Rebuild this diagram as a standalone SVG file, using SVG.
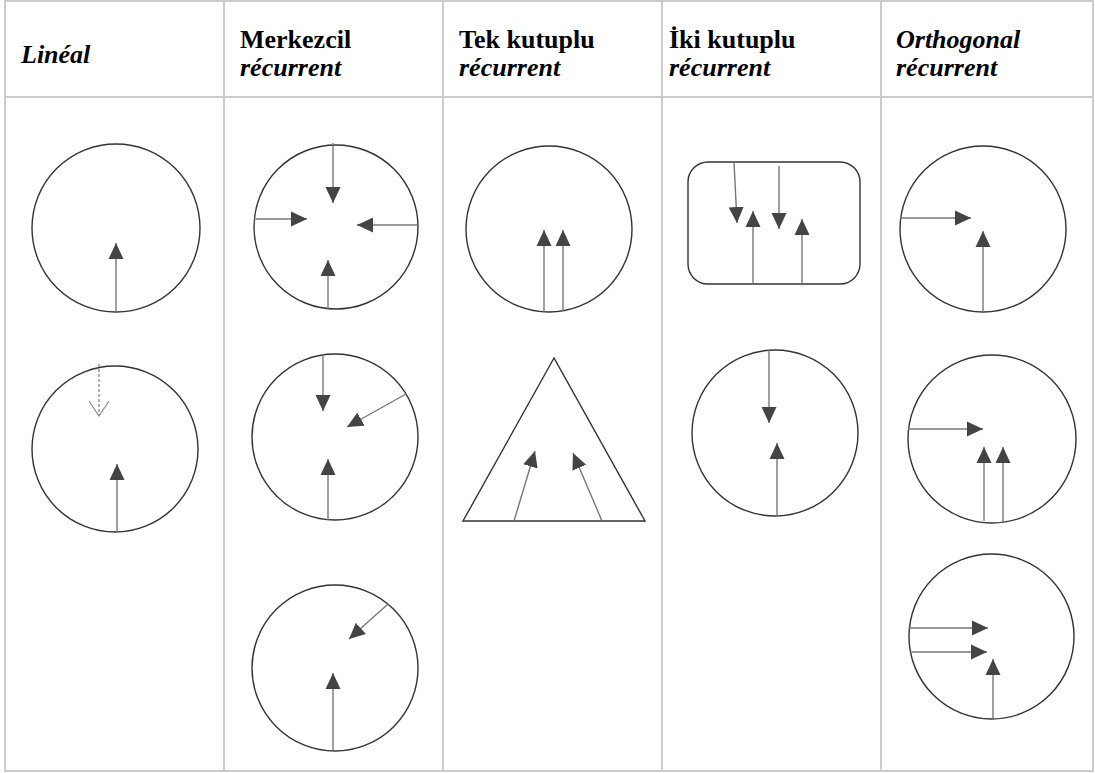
<svg xmlns="http://www.w3.org/2000/svg" width="1095" height="773" viewBox="0 0 1095 773">
<style>
.grid{stroke:#cccccc;stroke-width:2;fill:none}
.hd{font-family:"Liberation Serif","Times New Roman",serif;font-size:26px;font-weight:bold;fill:#000}
.it{font-style:italic}
.shape{fill:none;stroke:#333;stroke-width:1.4}
.ar{stroke:#777;stroke-width:1.4;fill:none;marker-end:url(#ah)}
.dash{stroke:#888;stroke-width:1.3;stroke-dasharray:3,2;fill:none;marker-end:url(#open)}
</style>
<defs>
<marker id="ah" markerUnits="userSpaceOnUse" markerWidth="16" markerHeight="16" viewBox="0 0 16 16" refX="16" refY="8" orient="auto">
<path d="M0,0.5 L16,8 L0,15.5 Z" fill="#444"/>
</marker>
<marker id="open" markerUnits="userSpaceOnUse" markerWidth="18" markerHeight="22" viewBox="0 0 18 22" refX="16" refY="11" orient="auto">
<path d="M1,1 L16,11 L1,21" fill="none" stroke="#888" stroke-width="1.2"/>
</marker>
</defs>
<g id="table">
<rect class="grid" x="5" y="1" width="1088" height="770"/>
<line class="grid" x1="5" y1="97" x2="1093" y2="97"/>
<line class="grid" x1="224" y1="1" x2="224" y2="771"/>
<line class="grid" x1="443" y1="1" x2="443" y2="771"/>
<line class="grid" x1="662" y1="1" x2="662" y2="771"/>
<line class="grid" x1="881" y1="1" x2="881" y2="771"/>
</g>
<g id="headers">
<text class="hd it" x="21" y="63">Linéal</text>
<text class="hd" x="240" y="48">Merkezcil</text>
<text class="hd it" x="240" y="76">récurrent</text>
<text class="hd" x="459" y="48">Tek kutuplu</text>
<text class="hd it" x="459" y="76">récurrent</text>
<text class="hd" x="669" y="48">İki kutuplu</text>
<text class="hd it" x="669" y="76">récurrent</text>
<text class="hd it" x="896" y="48">Orthogonal</text>
<text class="hd it" x="896" y="76">récurrent</text>
</g>
<g id="lineal-1"><circle class="shape" cx="116" cy="228" r="84"/></g>
<g id="lineal-2"><circle class="shape" cx="115" cy="449" r="83"/></g>
<g id="merkezcil-1"><circle class="shape" cx="336" cy="227" r="82"/></g>
<g id="merkezcil-2"><circle class="shape" cx="335" cy="437" r="83"/></g>
<g id="merkezcil-3"><circle class="shape" cx="335" cy="668" r="83"/></g>
<g id="tek-1"><circle class="shape" cx="549" cy="229" r="83"/></g>
<g id="tek-2"><polygon class="shape" points="554,358 463,521 645,521"/></g>
<g id="iki-1"><rect class="shape" x="688" y="162" width="172" height="122" rx="20" ry="20"/></g>
<g id="iki-2"><circle class="shape" cx="775" cy="433" r="83"/></g>
<g id="ortho-1"><circle class="shape" cx="983" cy="229" r="83"/></g>
<g id="ortho-2"><circle class="shape" cx="992" cy="439" r="84"/></g>
<g id="ortho-3"><circle class="shape" cx="991.5" cy="636.5" r="82.5"/></g>
<g id="connectors">
<line class="ar" x1="116" y1="312" x2="116" y2="243"/>
<line class="ar" x1="117" y1="532" x2="117" y2="464"/>
<line class="dash" x1="99" y1="364" x2="99" y2="416"/>
<line class="ar" x1="333" y1="143" x2="333" y2="203"/>
<line class="ar" x1="254" y1="219" x2="307" y2="219"/>
<line class="ar" x1="417" y1="225" x2="357" y2="225"/>
<line class="ar" x1="328" y1="309" x2="328" y2="260"/>
<line class="ar" x1="323" y1="354" x2="323" y2="411"/>
<line class="ar" x1="406" y1="394" x2="347" y2="427"/>
<line class="ar" x1="328" y1="520" x2="328" y2="459"/>
<line class="ar" x1="388" y1="604" x2="349" y2="639"/>
<line class="ar" x1="333" y1="751" x2="333" y2="673"/>
<line class="ar" x1="544" y1="312" x2="544" y2="230"/>
<line class="ar" x1="563" y1="311" x2="563" y2="230"/>
<line class="ar" x1="514" y1="521" x2="535" y2="451"/>
<line class="ar" x1="602" y1="521" x2="573" y2="453"/>
<line class="ar" x1="734" y1="162" x2="737" y2="223"/>
<line class="ar" x1="753" y1="284" x2="753" y2="211"/>
<line class="ar" x1="779" y1="166" x2="779" y2="229"/>
<line class="ar" x1="802" y1="284" x2="802" y2="219"/>
<line class="ar" x1="769" y1="350" x2="769" y2="423"/>
<line class="ar" x1="777" y1="516" x2="777" y2="443"/>
<line class="ar" x1="900" y1="218" x2="971" y2="218"/>
<line class="ar" x1="983" y1="312" x2="983" y2="231"/>
<line class="ar" x1="908" y1="429" x2="983" y2="429"/>
<line class="ar" x1="984" y1="521" x2="984" y2="447"/>
<line class="ar" x1="1003" y1="522" x2="1003" y2="447"/>
<line class="ar" x1="909" y1="628" x2="988" y2="628"/>
<line class="ar" x1="910" y1="652" x2="987" y2="652"/>
<line class="ar" x1="993" y1="719" x2="993" y2="659"/>
</g>
</svg>
